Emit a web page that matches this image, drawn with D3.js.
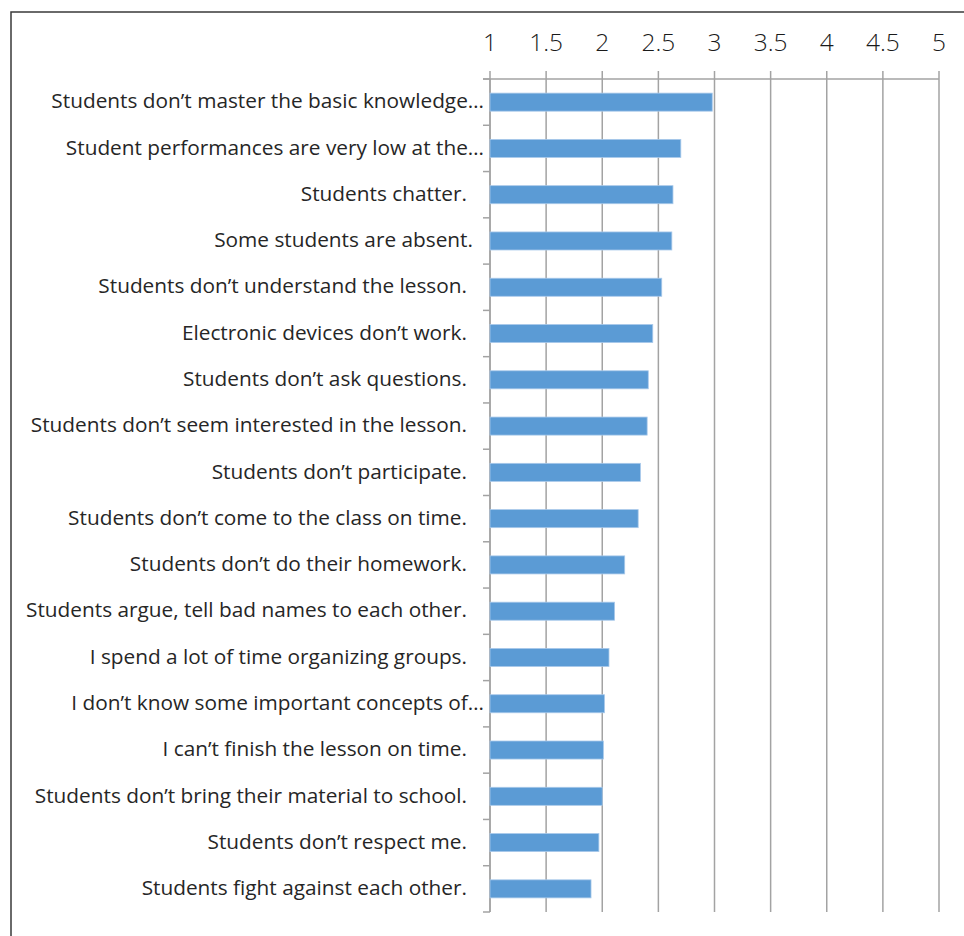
<!DOCTYPE html>
<html>
<head>
<meta charset="utf-8">
<script src="https://cdn.jsdelivr.net/npm/d3@7"></script>
<style>
  html, body { margin: 0; padding: 0; background: #fff; }
  svg { display: block; }
</style>
</head>
<body>
<svg id="chart" width="964" height="936"></svg>
<script>
// Problems reported in class, mean rating on a 1–5 scale
const categories = [
  "Students don\u2019t master the basic knowledge\u2026",
  "Student performances are very low at the\u2026",
  "Students chatter.",
  "Some students are absent.",
  "Students don\u2019t understand the lesson.",
  "Electronic devices don\u2019t work.",
  "Students don\u2019t ask questions.",
  "Students don\u2019t seem interested in the lesson.",
  "Students don\u2019t participate.",
  "Students don\u2019t come to the class on time.",
  "Students don\u2019t do their homework.",
  "Students argue, tell bad names to each other.",
  "I spend a lot of time organizing groups.",
  "I don\u2019t know some important concepts of\u2026",
  "I can\u2019t finish the lesson on time.",
  "Students don\u2019t bring their material to school.",
  "Students don\u2019t respect me.",
  "Students fight against each other."
];
const values = [2.98, 2.70, 2.63, 2.62, 2.53, 2.45, 2.41, 2.40, 2.34, 2.32, 2.20, 2.11, 2.06, 2.02, 2.01, 2.00, 1.97, 1.90];
const tickValues = [1, 1.5, 2, 2.5, 3, 3.5, 4, 4.5, 5];

const svg = d3.select("#chart");
const plotTop = 79, plotBottom = 912, plotLeft = 490, plotRight = 939;

const x = d3.scaleLinear().domain([1, 5]).range([plotLeft, plotRight]);
const y = d3.scaleBand().domain(categories).range([plotTop, plotBottom])
  .paddingInner(0.61).paddingOuter(0.305);
const step = y.step();
const gridColor = "#a3a3a3";

// frame
svg.append("path")
  .attr("d", "M11,1000 L11,12 L1000,12")
  .attr("fill", "none").attr("stroke", "#3a3a3a").attr("stroke-width", 1.5);

// vertical gridlines
svg.append("g").selectAll("line").data(tickValues).join("line")
  .attr("x1", d => x(d)).attr("x2", d => x(d))
  .attr("y1", plotTop - 8).attr("y2", plotBottom)
  .attr("stroke", gridColor).attr("stroke-width", 1.5);

// top axis line
svg.append("line")
  .attr("x1", plotLeft - 7).attr("x2", plotRight).attr("y1", plotTop).attr("y2", plotTop)
  .attr("stroke", gridColor).attr("stroke-width", 1.5);

// tick labels
svg.append("g").selectAll("text").data(tickValues).join("text")
  .attr("x", d => x(d)).attr("y", 51)
  .attr("text-anchor", "middle")
  .attr("font-family", "'Open Sans', sans-serif")
  .attr("font-weight", 300)
  .attr("font-size", 24.5)
  .attr("fill", "#1a1a1a")
  .text(d => d3.format("")(d));

// left category axis with boundary ticks
svg.append("line")
  .attr("x1", plotLeft).attr("x2", plotLeft).attr("y1", plotTop).attr("y2", plotBottom)
  .attr("stroke", gridColor).attr("stroke-width", 1.5);
svg.append("g").selectAll("line").data(d3.range(categories.length + 1)).join("line")
  .attr("x1", plotLeft - 7).attr("x2", plotLeft)
  .attr("y1", i => plotTop + i * step).attr("y2", i => plotTop + i * step)
  .attr("stroke", gridColor).attr("stroke-width", 1.5);

// bars
svg.append("g").selectAll("rect").data(categories).join("rect")
  .attr("x", x(1))
  .attr("y", d => y(d))
  .attr("width", (d, i) => x(values[i]) - x(1))
  .attr("height", y.bandwidth())
  .attr("fill", "#5b9bd5")
  .attr("stroke", "#a9c9ea").attr("stroke-width", 0.8);

// category labels
svg.append("g").selectAll("text").data(categories).join("text")
  .attr("x", d => d.endsWith("\u2026") ? 484 : (d === "Some students are absent." ? 473 : 467))
  .attr("y", d => y(d) + y.bandwidth() / 2)
  .attr("dy", "0.3em")
  .attr("text-anchor", "end")
  .attr("font-family", "'Open Sans', sans-serif")
  .attr("font-size", 20.8)
  .attr("fill", "#262626")
  .text(d => d);
</script>
</body>
</html>
